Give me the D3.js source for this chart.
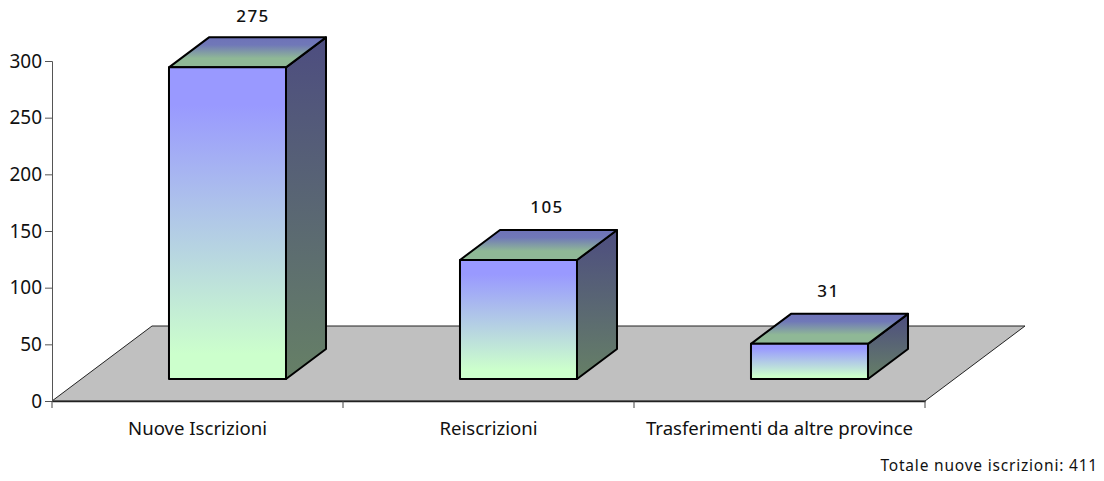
<!DOCTYPE html>
<html>
<head>
<meta charset="utf-8">
<script src="https://cdn.jsdelivr.net/npm/d3@7"></script>
<style>
  html, body { margin: 0; padding: 0; background: #fff; }
  text { font-family: "Noto Sans", sans-serif; fill: #111; }
</style>
</head>
<body>
<div id="chart"></div>
<script>
// data
var categories = ["Nuove Iscrizioni", "Reiscrizioni", "Trasferimenti da altre province"];
var values = [275, 105, 31];
var yTicks = [0, 50, 100, 150, 200, 250, 300];
var totalLabel = "Totale nuove iscrizioni: 411";

var svgWidth = 1104, svgHeight = 481;

var svg = d3.select("#chart").append("svg")
  .attr("width", svgWidth)
  .attr("height", svgHeight)
  .style("display", "block");

var x = d3.scaleBand().domain(categories).range([52, 925]);
var y = d3.scaleLinear().domain([0, 300]).range([401, 61]);

// floor and bar depth, in pixels
var floorDepth = { dx: 100, dy: -75 };
var barDepth = { dx: 40, dy: -30 };
var barWidth = x.bandwidth() / 2.487;
var barInset = x.bandwidth() * 0.402;
var barLift = 22;
var labelNudgeX = [5.5, 8.5, -1];
var labelNudgeY = [0, -2, -2];

// gradients
var defs = svg.append("defs");
function gradient(id, stops) {
  var g = defs.append("linearGradient")
    .attr("id", id)
    .attr("x1", 0).attr("y1", 0).attr("x2", 0).attr("y2", 1);
  stops.forEach(function(s) {
    g.append("stop").attr("offset", s[0]).attr("stop-color", s[1]);
  });
}
gradient("front", [[0, "#9999ff"], [0.12, "#9999ff"], [0.92, "#ccffcc"], [1, "#ccffcc"]]);
gradient("side", [[0, "#4d4d80"], [1, "#668066"]]);
gradient("top", [[0, "#6e72b8"], [0.25, "#7078b8"], [0.7, "#8fb896"], [1, "#8fb896"]]);

// floor
var floor = [
  [52, 401],
  [52 + floorDepth.dx, 401 + floorDepth.dy],
  [925 + floorDepth.dx, 401 + floorDepth.dy],
  [925, 401]
];
svg.append("polygon")
  .attr("points", floor.join(" "))
  .attr("fill", "#c0c0c0")
  .attr("stroke", "#222")
  .attr("stroke-width", 1);

// bars
var line = d3.line();
var bars = svg.selectAll(".bar")
  .data(values)
  .enter()
  .append("g")
  .attr("class", "bar");

function barBox(d, i) {
  var left = x(categories[i]) + barInset;
  return {
    left: left,
    right: left + barWidth,
    top: y(d) - barLift,
    bottom: y(0) - barLift
  };
}

function face(fill, pts) {
  bars.append("path")
    .attr("d", function(d, i) { return line(pts(barBox(d, i))) + "Z"; })
    .attr("fill", "url(#" + fill + ")")
    .attr("stroke", "#000")
    .attr("stroke-width", 2)
    .attr("stroke-linejoin", "round");
}

face("side", function(b) {
  return [[b.right, b.top], [b.right + barDepth.dx, b.top + barDepth.dy],
          [b.right + barDepth.dx, b.bottom + barDepth.dy], [b.right, b.bottom]];
});
face("top", function(b) {
  return [[b.left, b.top], [b.left + barDepth.dx, b.top + barDepth.dy],
          [b.right + barDepth.dx, b.top + barDepth.dy], [b.right, b.top]];
});
face("front", function(b) {
  return [[b.left, b.top], [b.right, b.top], [b.right, b.bottom], [b.left, b.bottom]];
});

// value labels
bars.append("text")
  .attr("x", function(d, i) {
    var b = barBox(d, i);
    return (b.left + b.right + barDepth.dx) / 2 + labelNudgeX[i];
  })
  .attr("y", function(d, i) { return barBox(d, i).top + barDepth.dy - 15 + labelNudgeY[i]; })
  .attr("text-anchor", "middle")
  .attr("font-size", "17px")
  .attr("font-weight", 500)
  .style("letter-spacing", "1.4px")
  .text(function(d) { return d; });

// axes
var leftAxis = d3.axisLeft(y).tickValues(yTicks).tickSize(7).tickPadding(3);
var gy = svg.append("g")
  .attr("transform", "translate(52,0)")
  .call(leftAxis);
gy.select(".domain").attr("stroke", "#555").attr("stroke-width", 1);
gy.selectAll(".tick line").attr("stroke", "#555");
gy.selectAll("text").style("font-size", "19px").style("font-family", '"Noto Sans", sans-serif');

var bottomAxis = d3.axisBottom(x).tickSize(0).tickPadding(21);
var gx = svg.append("g")
  .attr("transform", "translate(0,401)")
  .call(bottomAxis);
gx.select(".domain").attr("stroke", "#222").attr("stroke-width", 1.5);
gx.selectAll("text").style("font-size", "18.6px").style("font-family", '"Noto Sans", sans-serif');

// category ticks sit between the bands
gx.selectAll(".edge")
  .data(x.domain().map(function(c) { return x(c); }).concat([x.range()[1]]))
  .enter()
  .append("line")
  .attr("class", "edge")
  .attr("x1", function(d) { return d; })
  .attr("x2", function(d) { return d; })
  .attr("y1", 0)
  .attr("y2", 7)
  .attr("stroke", "#444");

svg.append("text")
  .attr("x", 1098)
  .attr("y", 471)
  .attr("text-anchor", "end")
  .attr("font-size", "15.5px")
  .style("letter-spacing", "0.8px")
  .text(totalLabel);
</script>
</body>
</html>
